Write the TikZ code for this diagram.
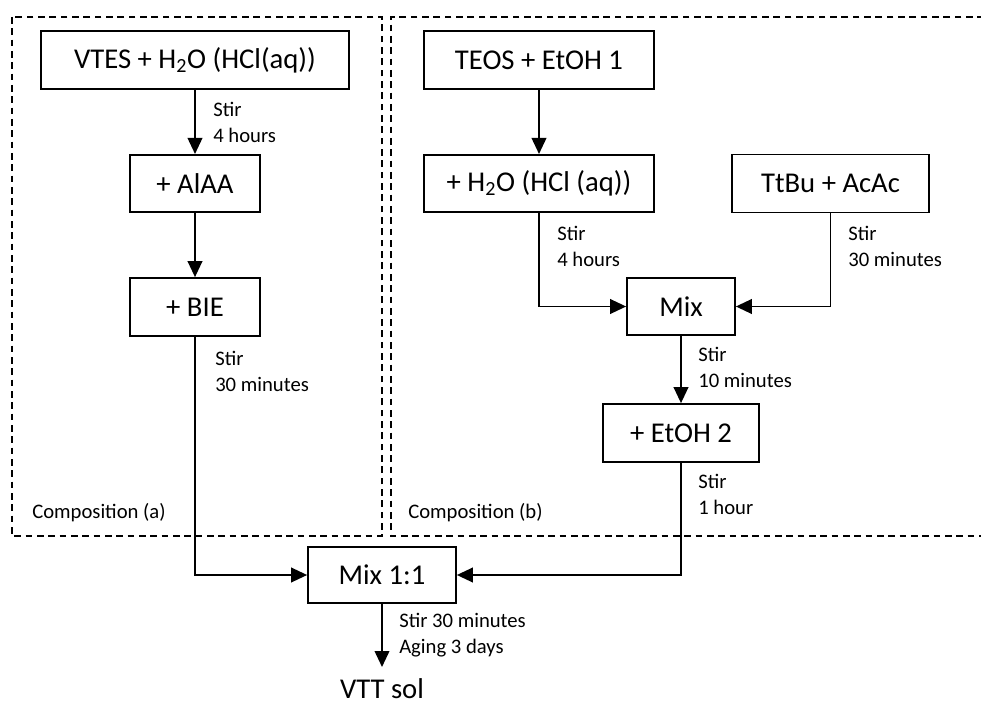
\documentclass[tikz,border=0pt]{standalone}
\usepackage{fontspec}
\setmainfont{Carlito}
\usetikzlibrary{arrows.meta}
\begin{document}
\begin{tikzpicture}[x=0.75pt,y=-0.75pt,
  procbox/.style={draw,line width=1.3pt,inner sep=0pt,font=\fontsize{21.5}{26}\selectfont},
  note/.style={anchor=west,align=left,inner sep=0pt,font=\fontsize{15.5}{19.5}\selectfont},
  conn/.style={line width=1.3pt,-{Triangle[length=12pt,width=11pt]}},
  grp/.style={line width=1pt,dash pattern=on 5pt off 3.5pt}]
\useasboundingbox (0,0) rectangle (981,706);
% group frames
\draw[grp] (12,17) rectangle (382,536);
\draw[grp] (984,17) -- (391,17) -- (391,536) -- (984,536);
\node[note] (ca) at (32,513) {Composition (a)};
\node[note] (cb) at (408,513) {Composition (b)};
% boxes
\node[procbox,minimum width=231pt,minimum height=43.5pt] (vtes) at (195,60) {VTES + H\textsubscript{2}O (HCl(aq))};
\node[procbox,minimum width=97pt,minimum height=43pt] (alaa) at (195,183.5) {+ AlAA};
\node[procbox,minimum width=97.5pt,minimum height=43.5pt] (bie) at (195,307) {+ BIE};
\node[procbox,minimum width=172.5pt,minimum height=43.5pt] (teos) at (539,60) {TEOS + EtOH 1};
\node[procbox,minimum width=172pt,minimum height=43pt] (h2o) at (539,183.5) {+ H\textsubscript{2}O (HCl (aq))};
\node[procbox,minimum width=148pt,minimum height=43.5pt] (ttbu) at (830.5,183.5) {TtBu + AcAc};
\node[procbox,minimum width=81pt,minimum height=43pt] (mix) at (681,306.5) {Mix};
\node[procbox,minimum width=117pt,minimum height=43.5pt] (etoh) at (681,433) {+ EtOH 2};
\node[procbox,minimum width=111pt,minimum height=42pt] (mixab) at (382,575) {Mix 1:1};
\node[inner sep=0pt,font=\fontsize{21.5}{26}\selectfont] (vtt) at (382,689) {VTT sol};
\coordinate (vttend) at (382,667);
% connectors
\draw[conn] (vtes) -- (alaa);
\draw[conn] (alaa) -- (bie);
\draw[conn] (teos) -- (h2o);
\draw[conn] (h2o) |- (mix);
\draw[conn] (ttbu) |- (mix);
\draw[conn] (mix) -- (etoh);
\draw[conn] (bie) |- (mixab);
\draw[conn] (etoh) |- (mixab);
\draw[conn] (mixab) -- (vttend);
% notes
\node[note] (n1) at (213,122) {Stir\\4 hours};
\node[note] (n2) at (215,371.5) {Stir\\30 minutes};
\node[note] (n3) at (557,246) {Stir\\4 hours};
\node[note] (n4) at (848,246) {Stir\\30 minutes};
\node[note] (n5) at (698,367.5) {Stir\\10 minutes};
\node[note] (n6) at (698,494) {Stir\\1 hour};
\node[note] (n7) at (399,635) {Stir 30 minutes\\Aging 3 days};
\end{tikzpicture}
\end{document}
